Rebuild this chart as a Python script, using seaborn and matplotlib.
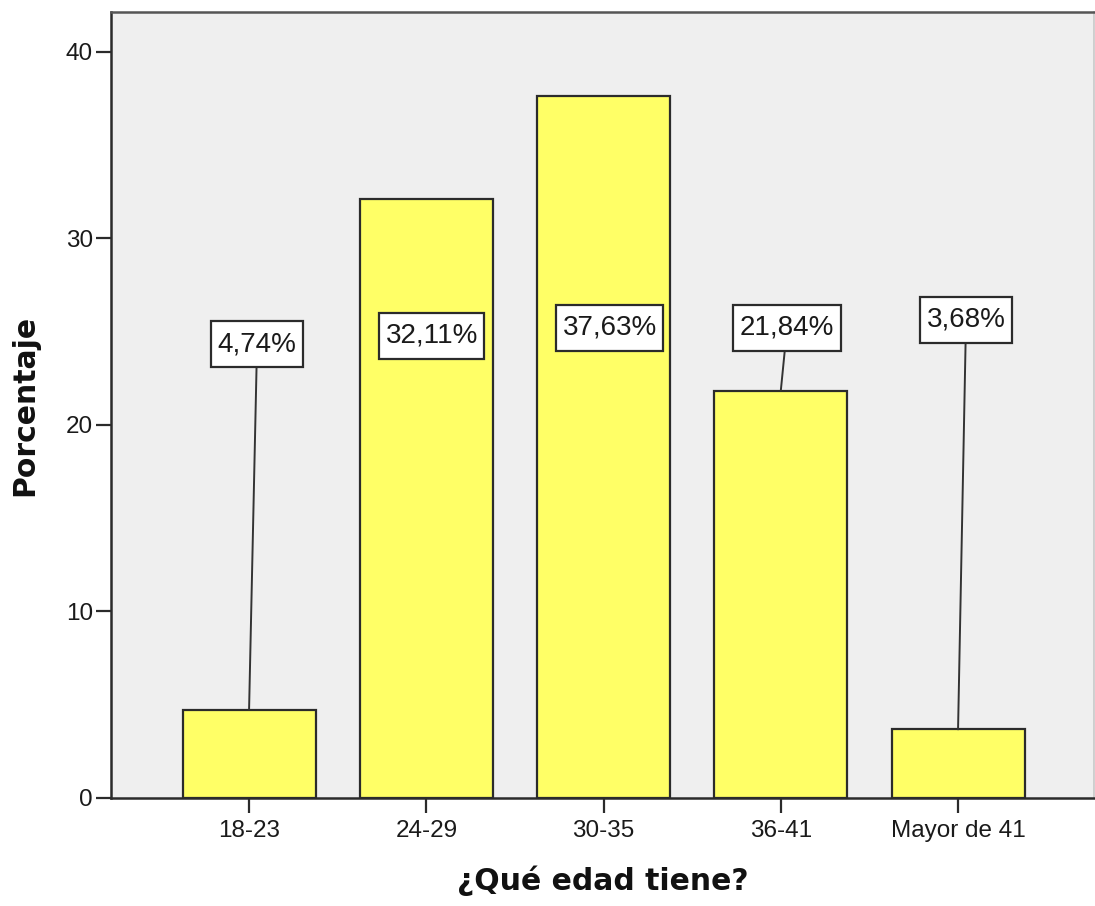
import matplotlib
matplotlib.use("Agg")
import matplotlib.pyplot as plt
from matplotlib.path import Path
import seaborn as sns
import pandas as pd

# Age groups and share of respondents (%)
categories = ["18-23", "24-29", "30-35", "36-41", "Mayor de 41"]
percentages = [4.74, 32.11, 37.63, 21.84, 3.68]
y_ticks = [0, 10, 20, 30, 40]

# Where each value box sits (data units): x offset from bar centre, height
box_dx = [0.045, 0.03, 0.035, 0.035, 0.045]
box_y = [24.34, 24.77, 25.2, 25.2, 25.63]

sns.set_style("white")
plt.rcParams["font.family"] = ["Liberation Sans", "DejaVu Sans"]


def label_box(x0, y0, width, height, mutation_size):
    """Square box with more vertical than horizontal padding."""
    padx = 0.23 * mutation_size
    pady = 0.36 * mutation_size
    x0, y0 = x0 - padx, y0 - pady
    x1, y1 = x0 + width + 2 * padx, y0 + height + 2 * pady
    return Path([(x0, y0), (x1, y0), (x1, y1), (x0, y1), (x0, y0)],
                [Path.MOVETO, Path.LINETO, Path.LINETO, Path.LINETO,
                 Path.CLOSEPOLY])


df = pd.DataFrame({"edad": categories, "pct": percentages})

fig = plt.figure(figsize=(10.95, 9.06), dpi=100)
ax = fig.add_axes([111 / 1095, 108 / 906, 983 / 1095, 786 / 906])
ax.set_facecolor("#EFEFEF")

sns.barplot(data=df, x="edad", y="pct", ax=ax, color="#FFFF66", saturation=1,
            width=0.75, edgecolor="#2b2b2b", linewidth=1.6, zorder=2)

ax.set_xlim(-0.779, 4.767)
ax.set_ylim(0, 42.14)
ax.set_yticks(y_ticks)
ax.set_yticklabels([str(t) for t in y_ticks])

for sp in ["left", "bottom"]:
    ax.spines[sp].set_color("#2b2b2b")
    ax.spines[sp].set_linewidth(1.8)
ax.spines["top"].set_color("#555555")
ax.spines["top"].set_linewidth(1.8)
ax.spines["right"].set_color("#c8c8c8")
ax.spines["right"].set_linewidth(1.2)

ax.tick_params(axis="both", direction="out", length=11, width=1.6,
               color="#2b2b2b", labelsize=17.5, labelcolor="#1a1a1a")
ax.tick_params(axis="x", pad=5)
ax.tick_params(axis="y", pad=2)
ax.tick_params(axis="both", left=True, bottom=True)

ax.set_xlabel("¿Qué edad tiene?", fontsize=21.5, fontweight="bold",
              family="DejaVu Sans", labelpad=17, color="#111111")
ax.set_ylabel("Porcentaje", fontsize=21.5, fontweight="bold",
              family="DejaVu Sans", labelpad=19, color="#111111")

# Value boxes, with a leader line down to short bars
for i, v in enumerate(percentages):
    label = f"{v:.2f}".replace(".", ",") + "%"
    tx, ty = i + box_dx[i], box_y[i]
    if ty > v:
        ax.plot([i, tx], [v, ty], color="#333333", lw=1.4, zorder=3)
    ax.text(tx, ty, label, ha="center", va="center", fontsize=20,
            color="#1a1a1a", zorder=4,
            bbox=dict(boxstyle=label_box, facecolor="white",
                      edgecolor="#2b2b2b", linewidth=1.6))

fig.savefig("out.png", dpi=100)
